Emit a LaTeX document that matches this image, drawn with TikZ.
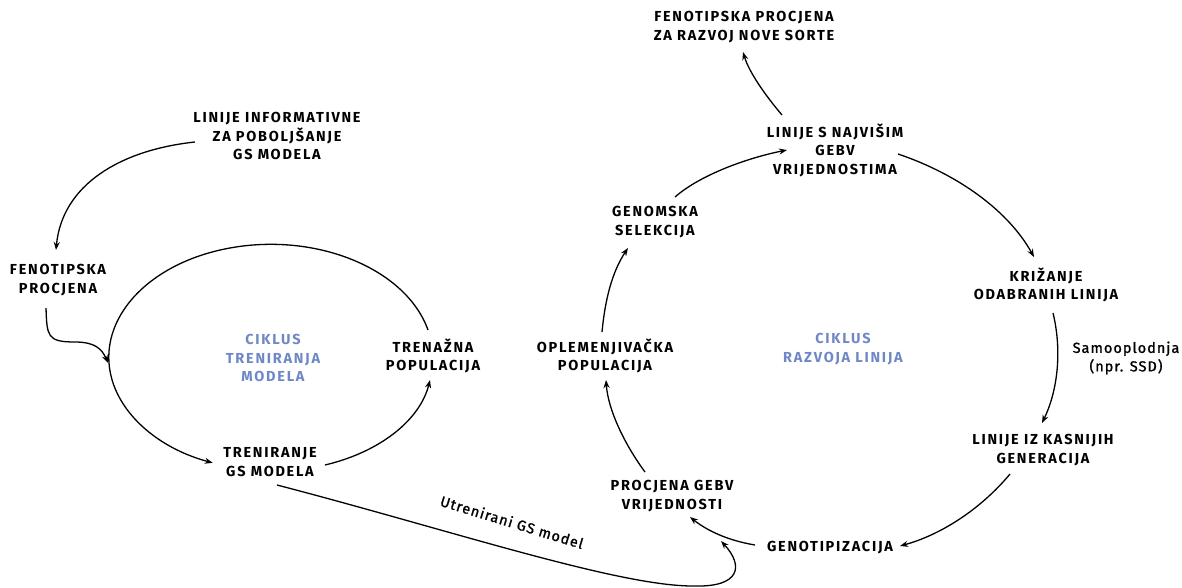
\documentclass[tikz,border=0pt]{standalone}
\usepackage{fontspec}
\setmainfont{Fira Sans}
\newfontfamily\capsfont{Fira Sans}[LetterSpace=12]
\newfontfamily\mixfont{Fira Sans}[LetterSpace=7, FakeBold=1.2]
\usetikzlibrary{arrows.meta}
\definecolor{cycblue}{RGB}{111,136,197}
\begin{document}
\begin{tikzpicture}[x=1pt,y=-1pt,
  lbl/.style={font=\capsfont\bfseries\fontsize{14.5}{18.5}\selectfont, align=center, inner sep=0pt, text=black},
  blu/.style={lbl, text=cycblue},
  mix/.style={font=\mixfont\fontsize{14.5}{18.5}\selectfont, align=center, inner sep=0pt, text=black},
  arr/.style={-{Stealth[length=8pt,width=6pt]}, line width=1.3pt, black}]
\fill[white] (0,0) rectangle (1182,587);
\useasboundingbox (0,0) rectangle (1182,587);

% nodes
\node[lbl] (info) at (277,136) {LINIJE INFORMATIVNE\\ZA POBOLJŠANJE\\GS MODELA};
\node[lbl] (fen1) at (58,280) {FENOTIPSKA\\PROCJENA};
\node[blu] (cik1) at (273,358) {CIKLUS\\TRENIRANJA\\MODELA};
\node[lbl] (tren) at (433,356) {TRENAŽNA\\POPULACIJA};
\node[lbl] (trgs) at (270,462) {TRENIRANJE\\GS MODELA};
\node[lbl] (fen2) at (744,27) {FENOTIPSKA PROCJENA\\ZA RAZVOJ NOVE SORTE};
\node[lbl] (najv) at (835,150) {LINIJE S NAJVIŠIM\\GEBV\\VRIJEDNOSTIMA};
\node[lbl] (genom) at (655,222) {GENOMSKA\\SELEKCIJA};
\node[lbl] (kriz) at (1046,285) {KRIŽANJE\\ODABRANIH LINIJA};
\node[lbl] (oplem) at (605,356) {OPLEMENJIVAČKA\\POPULACIJA};
\node[blu] (cik2) at (843,349) {CIKLUS\\RAZVOJA LINIJA};
\node[mix] (samo) at (1126,358) {Samooplodnja\\(npr. SSD)};
\node[lbl] (kasn) at (1043,450) {LINIJE IZ KASNIJIH\\GENERACIJA};
\node[lbl] (geno) at (830,548) {GENOTIPIZACIJA};
\node[lbl] (proc) at (672,496) {PROCJENA GEBV\\VRIJEDNOSTI};
\node[mix, rotate=-17] (utr) at (512,522) {Utrenirani GS model};
\coordinate (ellL) at (108,363);

% left cycle
\draw[arr] ([shift={(-82,6)}]info.center) .. controls +(-75,8) and +(6,-65) .. ([shift={(-2,-30)}]fen1.center);
\draw[arr] ([shift={(-12,28)}]fen1.center) .. controls +(1,28) and +(-28,0) .. ++(29,34)
   .. controls +(20,0) and +(-6,-14) .. (ellL);
\draw[arr] ([shift={(-5,-26)}]tren.center) arc[start angle=-14, end angle=-249, x radius=162, y radius=113];
\draw[arr] ([shift={(55,3)}]trgs.center) .. controls +(55,-13) and +(-10,40) .. ([shift={(-3,24)}]tren.center);
\draw[arr] ([shift={(7,23)}]trgs.center) .. controls +(173,45) and +(-75,1) .. (695,586)
   .. controls +(45,1) and +(23,25) .. ([shift={(49,45)}]proc.center);

% right cycle
\draw[arr] ([shift={(-75,-3)}]geno.center) .. controls +(-30,-5) and +(15,12) .. ([shift={(18,21)}]proc.center);
\draw[arr] ([shift={(-27,-24)}]proc.center) .. controls +(-20,-27) and +(2,30) .. ([shift={(1,24)}]oplem.center);
\draw[arr] ([shift={(-3,-24)}]oplem.center) .. controls +(3,-32) and +(-16,24) .. ([shift={(-27,26)}]genom.center);
\draw[arr] ([shift={(20,-25)}]genom.center) .. controls +(25,-22) and +(-40,8) .. ([shift={(-48,0)}]najv.center);
\draw[arr] ([shift={(-53,-35)}]najv.center) .. controls +(-17,-20) and +(6,20) .. ([shift={(-1,25)}]fen2.center);
\draw[arr] ([shift={(63,4)}]najv.center) .. controls +(62,21) and +(-25,-45) .. ([shift={(-12,-28)}]kriz.center);
\draw[arr] ([shift={(7,28)}]kriz.center) .. controls +(9,37) and +(16,-33) .. ([shift={(-1,-27)}]kasn.center);
\draw[arr] ([shift={(-33,24)}]kasn.center) .. controls +(-30,36) and +(40,-11) .. ([shift={(70,-2)}]geno.center);
\end{tikzpicture}
\end{document}
